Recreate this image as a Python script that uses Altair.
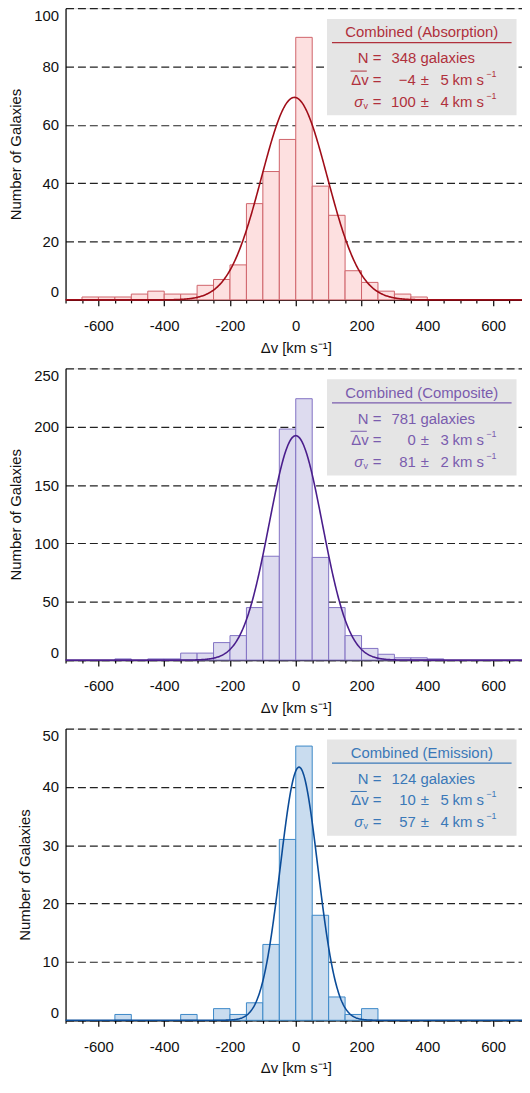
import altair as alt
import pandas as pd

FONT = "Liberation Sans"

# ---------------- data ----------------
bin_width = 50

abs_bin_lo = [-650, -600, -550, -500, -450, -400, -350, -300, -250, -200, -150,
              -100, -50, 0, 50, 100, 150, 200, 250, 300, 350]
abs_counts = [1, 1, 1, 2, 3, 2, 2, 5, 7, 12, 33, 44, 55, 90, 39, 29, 10, 6, 3, 2, 1]

comp_bin_lo = [-550, -450, -400, -350, -300, -250, -200, -150, -100, -50, 0,
               50, 100, 150, 200, 250, 300, 350, 400]
comp_counts = [1, 1, 1, 6, 6, 15, 21, 45, 89, 198, 224, 88, 45, 21, 10, 5, 2, 2, 1]

emis_bin_lo = [-550, -350, -250, -200, -150, -100, -50, 0, 50, 100, 150, 200]
emis_counts = [1, 1, 2, 1, 3, 13, 31, 47, 18, 4, 1, 2]

titles = ["Combined (Absorption)", "Combined (Composite)", "Combined (Emission)"]
n_gal = [348, 781, 124]
mean_dv = [-4, 0, 10]
mean_err = [5, 3, 5]
sigma_v = [100, 81, 57]
sigma_err = [4, 2, 4]
y_max = [100, 250, 50]
y_step = [20, 50, 10]

x_ticks = list(range(-700, 701, 50))
x_title = "Δv [km s⁻¹]"
y_title = "Number of Galaxies"

colors = [
    dict(text="#b0303c", line="#a00d18", fill="#fde0e0", stroke="#d0646b"),
    dict(text="#7a5cae", line="#4a1e8c", fill="#dddbef", stroke="#8272c4"),
    dict(text="#3a78b8", line="#0b4c98", fill="#c9dcef", stroke="#3c88c8"),
]

W, H = 464, 294
one = pd.DataFrame({"k": [0]})


def fmt_num(v):
    return ("−" + str(-v)) if v < 0 else str(v)


def txt(x, y, s, color, align="left", size=15, style="normal"):
    return alt.Chart(one).mark_text(
        font=FONT, fontSize=size, color=color, align=align,
        baseline="alphabetic", fontStyle=style
    ).encode(x=alt.value(x), y=alt.value(y), text=alt.value(s))


def hrule(x1, x2, y, color, w=1.0):
    return alt.Chart(one).mark_rule(color=color, strokeWidth=w).encode(
        x=alt.value(x1), x2=alt.value(x2), y=alt.value(y))


def panel(i, lo, cnt):
    c = colors[i]
    df = pd.DataFrame({"lo": lo, "count": cnt})
    df["hi"] = df["lo"] + bin_width

    xscale = alt.Scale(domain=[-700, 700], nice=False, zero=False)
    yscale = alt.Scale(domain=[0, y_max[i]], nice=False)
    xaxis = alt.Axis(
        values=x_ticks,
        labelExpr="datum.value % 200 == 0 ? '' + datum.value : ''",
        tickSize={"condition": {"test": "datum.value % 200 == 0", "value": 6}, "value": 3},
        tickColor="black", tickWidth=1.2,
        domainColor="black", domainWidth=1.2,
        labelFont=FONT, labelFontSize=15, labelColor="#111", labelPadding=13,
        title=x_title, titleFont=FONT, titleFontSize=15, titleFontWeight="normal",
        titleColor="#111", titlePadding=7, grid=False,
    )
    yaxis = alt.Axis(
        values=list(range(0, y_max[i] + 1, y_step[i])),
        ticks=False, tickSize=0, labelPadding=7, labelFlush=True,
        labelFont=FONT, labelFontSize=15, labelColor="#111",
        domainColor="black", domainWidth=1.2,
        grid=True, gridDash=[8, 4], gridColor="#222", gridWidth=1.2,
        title=y_title, titleFont=FONT, titleFontSize=15, titleFontWeight="normal",
        titleColor="#111", titlePadding=10,
    )

    bars = alt.Chart(df).mark_rect(
        fill=c["fill"], stroke=c["stroke"], strokeWidth=1
    ).encode(
        x=alt.X("lo:Q", scale=xscale, axis=xaxis),
        x2="hi:Q",
        y=alt.Y("count:Q", scale=yscale, axis=yaxis),
        y2=alt.datum(0),
    )

    amp = n_gal[i] * bin_width
    curve = alt.Chart(alt.sequence(-700, 701, 2, as_="v")).transform_calculate(
        g=f"{amp}/({sigma_v[i]}*sqrt(2*PI))*exp(-0.5*pow((datum.v-({mean_dv[i]}))/{sigma_v[i]},2))"
    ).mark_line(color=c["line"], strokeWidth=1.6).encode(
        x=alt.X("v:Q", scale=xscale, axis=xaxis),
        y=alt.Y("g:Q", scale=yscale, axis=yaxis),
    )

    right_border = alt.Chart(one).mark_rule(color="black", strokeWidth=1.2).encode(
        x=alt.value(W), y=alt.value(0), y2=alt.value(H))

    bx = W - 9.5 - 191
    box = alt.Chart(one).mark_rect(fill="#e5e5e5").encode(
        x=alt.value(bx), x2=alt.value(bx + 191), y=alt.value(11), y2=alt.value(108))

    tc = c["text"]
    y1, y2, y3 = 55.6, 77.4, 99.6
    legend = [
        box,
        txt(bx + 95.5, 29.4, titles[i], tc, align="center"),
        hrule(bx + 5, bx + 186, 34.8, tc, 1.2),
        # N line
        txt(bx + 54.8, y1, "N =", tc, align="right"),
        txt(bx + 65, y1, f"{n_gal[i]} galaxies", tc),
        # mean line
        txt(bx + 54.8, y2, "Δv =", tc, align="right"),
        hrule(bx + 23.7, bx + 40.1, 63.4, tc, 1.0),
        txt(bx + 89.5, y2, fmt_num(mean_dv[i]), tc, align="right"),
        txt(bx + 94.5, y2, "±", tc),
        txt(bx + 122.7, y2, str(mean_err[i]), tc, align="right"),
        txt(bx + 126.5, y2, "km s", tc),
        txt(bx + 160.5, y2 - 8.5, "−1", tc, size=9),
        # sigma line
        txt(bx + 54.8, y3, "=", tc, align="right"),
        txt(bx + 36.5, y3, "σ", tc, align="right", style="italic"),
        txt(bx + 36.8, y3 + 2, "v", tc, size=9),
        txt(bx + 89.5, y3, fmt_num(sigma_v[i]), tc, align="right"),
        txt(bx + 94.5, y3, "±", tc),
        txt(bx + 122.7, y3, str(sigma_err[i]), tc, align="right"),
        txt(bx + 126.5, y3, "km s", tc),
        txt(bx + 160.5, y3 - 8.5, "−1", tc, size=9),
    ]

    return alt.layer(bars, curve, right_border, *legend).properties(width=W, height=H)


p1 = panel(0, abs_bin_lo, abs_counts)
p2 = panel(1, comp_bin_lo, comp_counts)
p3 = panel(2, emis_bin_lo, emis_counts)

chart = alt.vconcat(p1, p2, p3, spacing=69, bounds="flush").properties(
    padding={"left": 0, "top": -6, "right": -8, "bottom": 0}
).configure_view(stroke=None).configure(font=FONT)

chart.save("out.html", embed_options={"renderer": "svg", "actions": False})
